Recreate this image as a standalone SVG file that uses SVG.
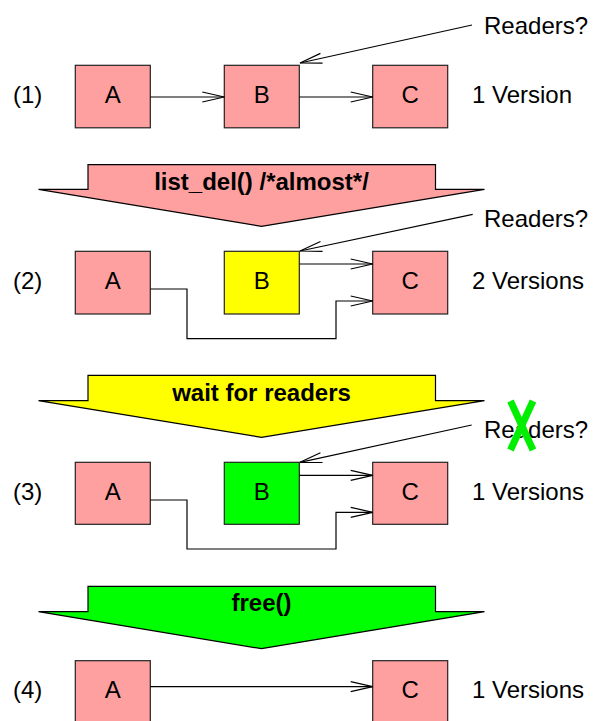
<svg xmlns="http://www.w3.org/2000/svg" width="593" height="721" viewBox="0 0 593 721">
<style>
text{font-family:"Liberation Sans",Arial,sans-serif;font-size:24px;fill:#000}
.b{font-weight:bold;text-anchor:middle}
.m{text-anchor:middle}
.box{stroke:#222;stroke-width:1.2}
.pink{fill:#ffa0a0}
.yel{fill:#ffff00}
.grn{fill:#00ff00}
.ban{stroke:#000;stroke-width:1.2}
.ln{fill:none;stroke:#000;stroke-width:1.2;marker-end:url(#ah)}
</style>
<defs>
<marker id="ah" viewBox="0 0 22 10" markerWidth="22" markerHeight="10" refX="22" refY="5" orient="auto" markerUnits="userSpaceOnUse" overflow="visible">
<path d="M0,0 L22,5 L0,10" fill="none" stroke="#000" stroke-width="1.2"/>
</marker>
</defs>
<rect width="593" height="721" fill="#fff"/>

<g id="banner1">
<polygon class="ban pink" points="88,164.7 435.5,164.7 435.5,189.3 484.5,189.3 261.5,226.3 38.5,189.3 88,189.3"/>
<text class="b" x="261.5" y="190">list_del() /*almost*/</text>
</g>
<g id="banner2">
<polygon class="ban yel" points="88,375.3 435.5,375.3 435.5,400.7 484.5,400.7 261.5,437.3 38.5,400.7 88,400.7"/>
<text class="b" x="261.5" y="400.5">wait for readers</text>
</g>
<g id="banner3">
<polygon class="ban grn" points="88,586.3 435.5,586.3 435.5,611.7 484.5,611.7 261.5,648.7 38.5,611.7 88,611.7"/>
<text class="b" x="261.5" y="611">free()</text>
</g>

<g id="labels">
<text x="13" y="103">(1)</text>
<text x="13" y="289">(2)</text>
<text x="13" y="500">(3)</text>
<text x="13" y="698">(4)</text>
<text x="472" y="103">1 Version</text>
<text x="472" y="289">2 Versions</text>
<text x="472" y="500">1 Versions</text>
<text x="472" y="698">1 Versions</text>
<text x="484" y="34">Readers?</text>
<text x="484" y="227">Readers?</text>
<text x="484" y="438">Readers?</text>
</g>

<g id="row1-A"><rect class="box pink" x="75.3" y="65.3" width="75" height="62.5"/><text class="m" x="112.8" y="103">A</text></g>
<g id="row1-B"><rect class="box pink" x="224.3" y="65.3" width="75" height="62.5"/><text class="m" x="261.8" y="103">B</text></g>
<g id="row1-C"><rect class="box pink" x="372.7" y="65.3" width="75" height="62.5"/><text class="m" x="410.2" y="103">C</text></g>

<g id="row2-A"><rect class="box pink" x="75.3" y="251.3" width="75" height="62.7"/><text class="m" x="112.8" y="289">A</text></g>
<g id="row2-B"><rect class="box yel" x="224.3" y="251.3" width="75" height="62.7"/><text class="m" x="261.8" y="289">B</text></g>
<g id="row2-C"><rect class="box pink" x="372.7" y="251.3" width="75" height="62.7"/><text class="m" x="410.2" y="289">C</text></g>

<g id="row3-A"><rect class="box pink" x="75.3" y="462.3" width="75" height="62"/><text class="m" x="112.8" y="500">A</text></g>
<g id="row3-B"><rect class="box grn" x="224.3" y="462.3" width="75" height="62"/><text class="m" x="261.8" y="500">B</text></g>
<g id="row3-C"><rect class="box pink" x="372.7" y="462.3" width="75" height="62"/><text class="m" x="410.2" y="500">C</text></g>

<g id="row4-A"><rect class="box pink" x="75.3" y="660.7" width="75" height="62.7"/><text class="m" x="112.8" y="698">A</text></g>
<g id="row4-C"><rect class="box pink" x="372.7" y="660.7" width="75" height="62.7"/><text class="m" x="410.2" y="698">C</text></g>

<g id="connectors">
<path class="ln" d="M150.3,97 H224.3"/>
<path class="ln" d="M299.3,97 H372.7"/>
<path class="ln" d="M472,25 L300,63"/>

<path class="ln" d="M299.3,264 H372.7"/>
<path class="ln" d="M150.3,289 H187 V338.7 H336 V301 H372.7"/>
<path class="ln" d="M472.7,214.3 L300,251"/>

<path class="ln" d="M299.3,475.3 H372.7"/>
<path class="ln" d="M150.3,500 H187 V549 H336 V512.3 H372.7"/>
<path class="ln" d="M471.7,425 L300,462.3"/>

<path class="ln" d="M150.3,686.7 H372.7"/>
</g>

<g id="cross">
<line x1="510.5" y1="401" x2="533" y2="450" stroke="#00ee00" stroke-width="7"/>
<line x1="533" y1="401" x2="510.5" y2="450" stroke="#00ee00" stroke-width="7"/>
</g>
</svg>
